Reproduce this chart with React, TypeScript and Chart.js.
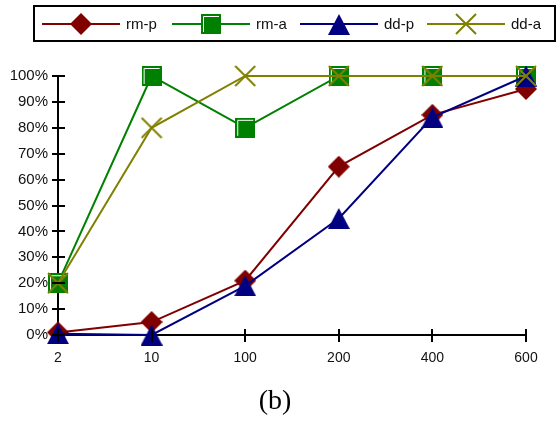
import React, { useEffect, useRef } from "react";
import { Chart, registerables } from "chart.js";

Chart.register(...registerables);

const categories = ["2", "10", "100", "200", "400", "600"];
const rmP = [1, 5, 21, 65, 85, 95];
const rmA = [20, 100, 80, 100, 100, 100];
const ddP = [0.5, 0, 19, 45, 84, 100];
const ddA = [20, 80, 100, 100, 100, 100];
const seriesNames = ["rm-p", "rm-a", "dd-p", "dd-a"];
const seriesColors = ["#800000", "#008000", "#000080", "#808000"];
const captionText = "(b)";

function makeMarker(kind: string, color: string): HTMLCanvasElement {
  const c = document.createElement("canvas");
  const ctx = c.getContext("2d")!;
  if (kind === "diamond") {
    c.width = 22; c.height = 22;
    ctx.fillStyle = color;
    ctx.beginPath();
    ctx.moveTo(11, 0); ctx.lineTo(22, 11); ctx.lineTo(11, 22); ctx.lineTo(0, 11);
    ctx.closePath(); ctx.fill();
  } else if (kind === "square") {
    c.width = 20; c.height = 20;
    ctx.fillStyle = color;
    ctx.fillRect(0, 0, 20, 20);
    ctx.strokeStyle = "#ffffff";
    ctx.lineWidth = 1;
    ctx.beginPath();
    ctx.moveTo(2.5, 18); ctx.lineTo(2.5, 2.5); ctx.lineTo(18, 2.5);
    ctx.stroke();
  } else if (kind === "triangle") {
    c.width = 22; c.height = 21;
    ctx.fillStyle = color;
    ctx.beginPath();
    ctx.moveTo(11, 0); ctx.lineTo(22, 21); ctx.lineTo(0, 21);
    ctx.closePath(); ctx.fill();
  } else {
    c.width = 22; c.height = 22;
    ctx.strokeStyle = color;
    ctx.lineWidth = 2;
    ctx.beginPath();
    ctx.moveTo(1, 1); ctx.lineTo(21, 21);
    ctx.moveTo(21, 1); ctx.lineTo(1, 21);
    ctx.stroke();
  }
  return c;
}

export default function App() {
  const ref = useRef<HTMLCanvasElement | null>(null);
  useEffect(() => {
    document.body.style.margin = "0";
    const kinds = ["diamond", "square", "triangle", "cross"];
    const markers = kinds.map((k, i) => makeMarker(k, seriesColors[i]));
    const values = [rmP, rmA, ddP, ddA];

    const decor = {
      id: "decor",
      afterDraw(chart: any) {
        const ctx = chart.ctx as CanvasRenderingContext2D;
        const xs = chart.scales.x;
        const ys = chart.scales.y;
        ctx.save();
        ctx.strokeStyle = "#000";
        ctx.lineWidth = 2;
        ctx.beginPath();
        for (let i = 0; i < xs.ticks.length; i++) {
          const px = Math.round(xs.getPixelForTick(i));
          ctx.moveTo(px, xs.top - 6);
          ctx.lineTo(px, xs.top + 7);
        }
        for (let i = 0; i < ys.ticks.length; i++) {
          const py = Math.round(ys.getPixelForTick(i));
          ctx.moveTo(ys.right - 6, py);
          ctx.lineTo(ys.right + 7, py);
        }
        ctx.stroke();
        // legend box
        ctx.lineWidth = 2;
        ctx.strokeRect(34, 6, 521, 35);
        const cy = 24;
        const starts = [42, 172, 300, 427];
        ctx.font = "15px 'Liberation Sans', Arial, sans-serif";
        ctx.textBaseline = "middle";
        ctx.textAlign = "left";
        for (let i = 0; i < 4; i++) {
          const x0 = starts[i];
          ctx.strokeStyle = seriesColors[i];
          ctx.lineWidth = 2;
          ctx.beginPath();
          ctx.moveTo(x0, cy);
          ctx.lineTo(x0 + 78, cy);
          ctx.stroke();
          const m = markers[i];
          ctx.drawImage(m, Math.round(x0 + 39 - m.width / 2), Math.round(cy - m.height / 2));
          ctx.fillStyle = "#111";
          ctx.fillText(seriesNames[i], x0 + 84, cy + 1);
        }
        // caption
        ctx.font = "28px 'Liberation Serif', 'Times New Roman', serif";
        ctx.textAlign = "center";
        ctx.textBaseline = "middle";
        ctx.fillStyle = "#000";
        ctx.fillText(captionText, 275, 402);
        ctx.restore();
      },
    };

    const chart = new Chart(ref.current!, {
      type: "line",
      data: {
        labels: categories,
        datasets: values.map((v, i) => ({
          label: seriesNames[i],
          data: v,
          borderColor: seriesColors[i],
          backgroundColor: seriesColors[i],
          borderWidth: 2,
          pointStyle: markers[i] as any,
          pointRadius: 10,
          tension: 0,
          fill: false,
          clip: false as any,
          order: 4 - i,
        })),
      },
      options: {
        animation: false,
        responsive: false,
        maintainAspectRatio: false,
        layout: { padding: { left: 0, right: 34, top: 76, bottom: 0 } },
        plugins: { legend: { display: false }, tooltip: { enabled: false } },
        scales: {
          x: {
            offset: false,
            grid: { display: false, drawTicks: false },
            border: { display: true, color: "#000", width: 2 },
            ticks: {
              padding: 15,
              color: "#111",
              font: { family: "'Liberation Sans', Arial, sans-serif", size: 14 },
              maxRotation: 0,
              autoSkip: false,
            },
            afterFit: (s: any) => { s.height = 90; },
          },
          y: {
            min: 0,
            max: 100,
            grid: { display: false, drawTicks: false },
            border: { display: true, color: "#000", width: 2 },
            ticks: {
              stepSize: 10,
              padding: 10,
              color: "#111",
              font: { family: "'Liberation Sans', Arial, sans-serif", size: 15 },
              callback: (v: any) => v + "%",
            },
            afterFit: (s: any) => { s.width = 58; },
          },
        },
      },
      plugins: [decor],
    });
    return () => chart.destroy();
  }, []);
  return <canvas ref={ref} width={560} height={425} style={{ display: "block" }} />;
}
